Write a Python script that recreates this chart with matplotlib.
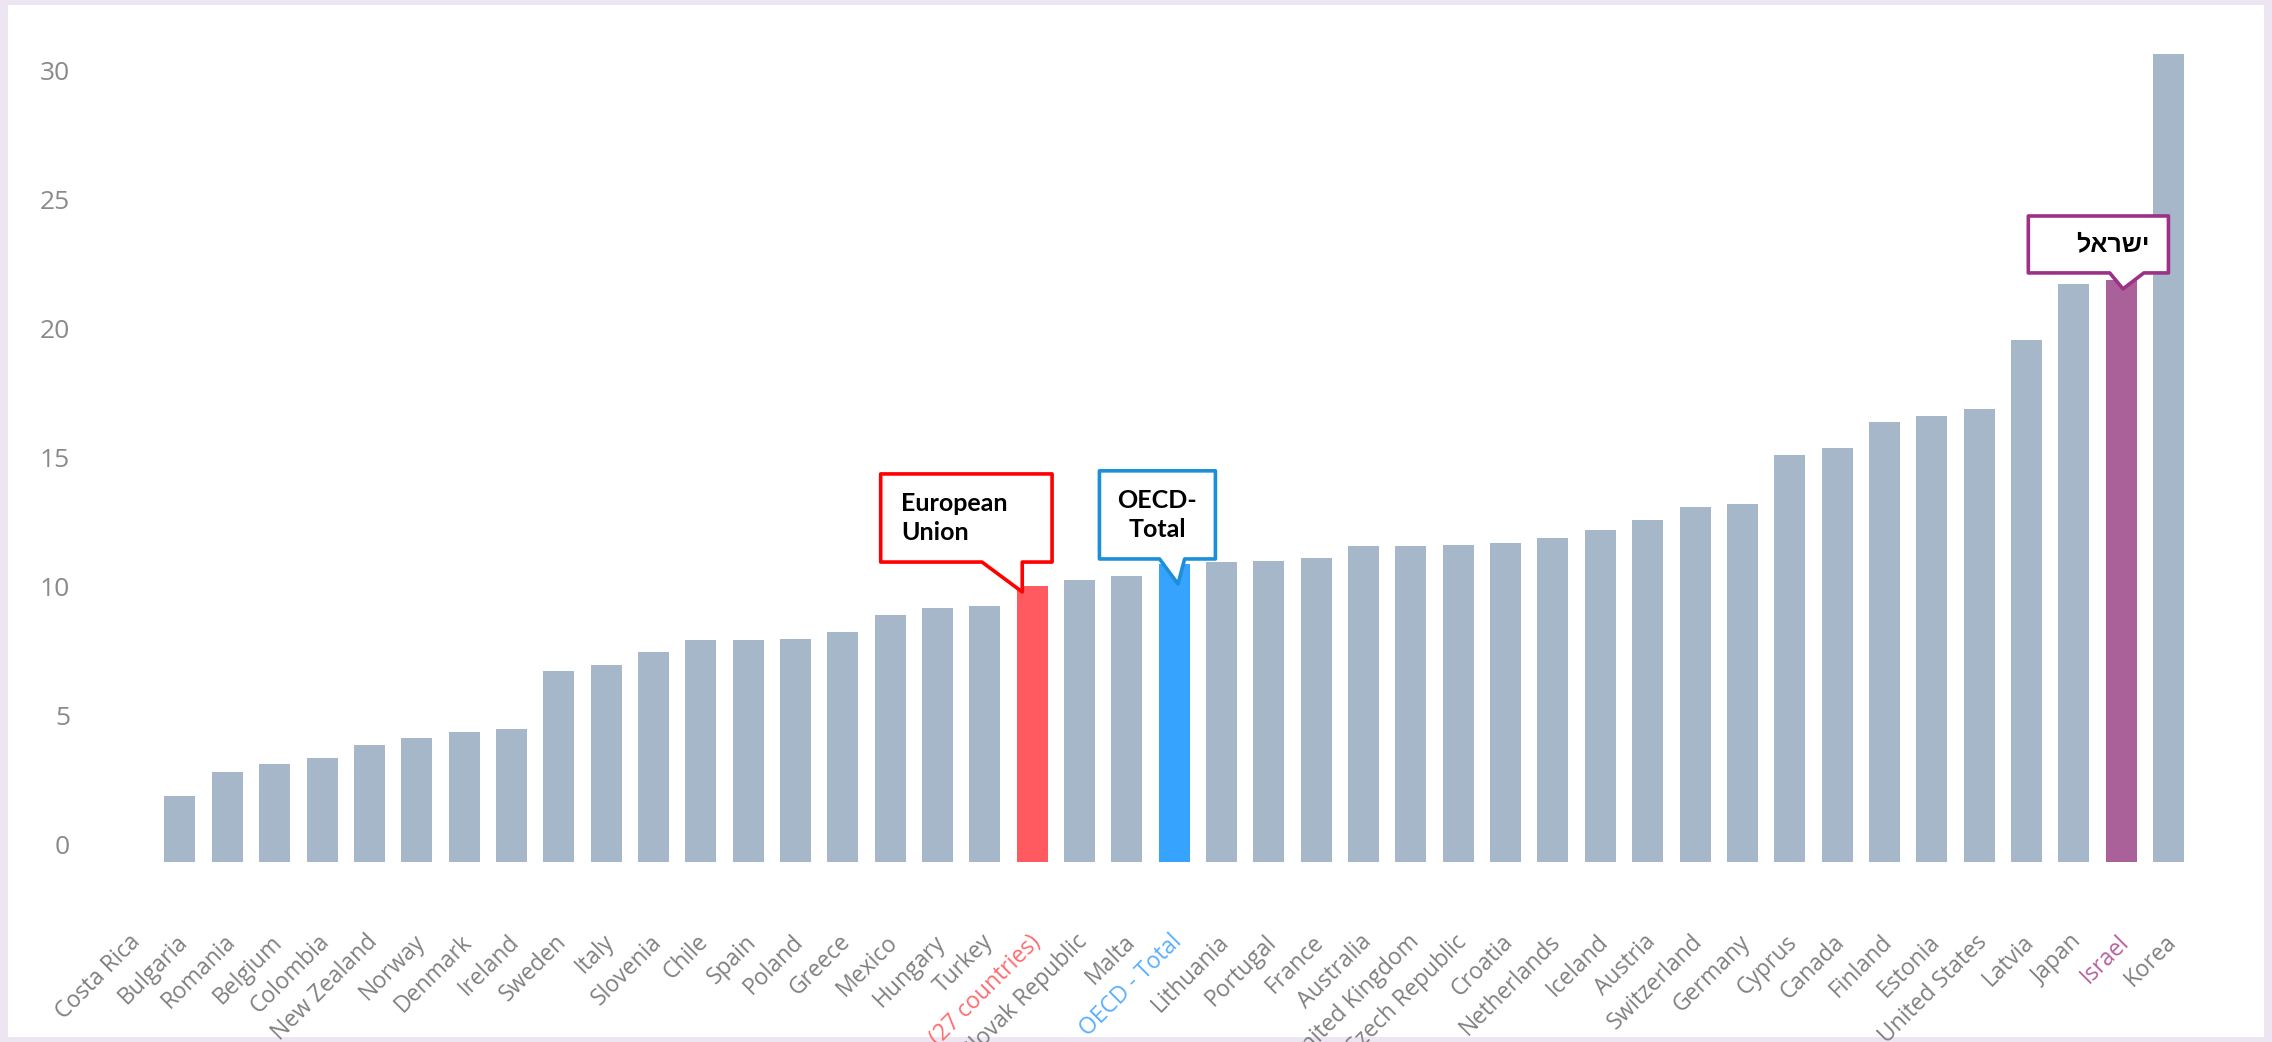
import numpy as np
import matplotlib.pyplot as plt
import matplotlib.transforms as mtransforms
from matplotlib.patches import Polygon, Rectangle

countries = ['Costa Rica', 'Bulgaria', 'Romania', 'Belgium', 'Colombia', 'New Zealand',
             'Norway', 'Denmark', 'Ireland', 'Sweden', 'Italy', 'Slovenia', 'Chile',
             'Spain', 'Poland', 'Greece', 'Mexico', 'Hungary', 'Turkey',
             'European Union (27 countries)', 'Slovak Republic', 'Malta', 'OECD - Total',
             'Lithuania', 'Portugal', 'France', 'Australia', 'United Kingdom',
             'Czech Republic', 'Croatia', 'Netherlands', 'Iceland', 'Austria',
             'Switzerland', 'Germany', 'Cyprus', 'Canada', 'Finland', 'Estonia',
             'United States', 'Latvia', 'Japan', 'Israel', 'Korea']
values = [np.nan, 2.58, 3.49, 3.82, 4.04, 4.55, 4.83, 5.06, 5.17, 7.42, 7.64, 8.15, 8.6,
          8.6, 8.65, 8.93, 9.6, 9.86, 9.94, 10.71, 10.94, 11.1, 11.56, 11.63, 11.69,
          11.8, 12.25, 12.25, 12.31, 12.36, 12.59, 12.87, 13.26, 13.77, 13.88, 15.8,
          16.08, 17.09, 17.31, 17.59, 20.24, 22.44, 22.58, 31.37]
yticks = [0, 5, 10, 15, 20, 25, 30]

bar_gray = '#a5b7c9'
highlight = {'European Union (27 countries)': ('#ff5a5f', '#ff6b6f', '#ff0000'),
             'OECD - Total': ('#36a3ff', '#5aafff', '#1b8fd9'),
             'Israel': ('#aa6199', '#b8609e', '#9b3287')}

callouts = [
    # name, text, text align, box (x0, x1, y0, y1) relative to bar, pointer base x0, x1, tip (dx, dy)
    ('European Union (27 countries)', 'European\nUnion', 'left',
     (-3.2, 0.42, 0.93, 4.35), (-1.06, -0.21), (-0.21, -0.23)),
    ('OECD - Total', 'OECD-\nTotal', 'center',
     (-1.58, 0.87, 0.2, 3.62), (-0.31, 0.22), (0.08, -0.77)),
    ('Israel', 'ישראל', 'right',
     (-1.96, 1.0, 0.28, 2.49), (-0.24, 0.48), (0.04, -0.34)),
]

fig = plt.figure(figsize=(22.72, 10.42), dpi=100, facecolor='#ede5f2')
fig.patches.append(Rectangle((8 / 2272, 5 / 1042), (2264 - 8) / 2272, (1037 - 5) / 1042,
                             transform=fig.transFigure, facecolor='white',
                             edgecolor='none', zorder=-10))
ax = fig.add_axes([85.3 / 2272, 180 / 1042, (2215.8 - 85.3) / 2272, (862 - 37.4) / 1042])
ax.set_facecolor('none')

x = np.arange(len(countries))
colors = [highlight[c][0] if c in highlight else bar_gray for c in countries]
ax.bar(x, values, width=0.655, color=colors, zorder=2)

ax.set_xlim(-1, len(countries))
ax.set_ylim(0, 32)
for s in ax.spines.values():
    s.set_visible(False)

ax.set_yticks(yticks)
ax.set_yticklabels([str(t) for t in yticks], fontsize=19, color='#8a8a8a', family='Open Sans')
ax.tick_params(axis='y', length=0, pad=11)
off = mtransforms.ScaledTranslation(0, 0.18, fig.dpi_scale_trans)
for lab in ax.get_yticklabels():
    lab.set_transform(lab.get_transform() + off)

ax.set_xticks(x)
ax.set_xticklabels(countries, rotation=45, ha='right', fontsize=16.5, family='Open Sans')
ax.tick_params(axis='x', length=0, pad=49)
offx = mtransforms.ScaledTranslation(0.13, 0, fig.dpi_scale_trans)
for lab, c in zip(ax.get_xticklabels(), countries):
    lab.set_color(highlight[c][1] if c in highlight else '#808080')
    lab.set_transform(lab.get_transform() + offx)

for name, text, align, box, base, tip in callouts:
    i = countries.index(name)
    v = values[i]
    bx0, bx1, by0, by1 = box
    pts = [(i + bx0, v + by1), (i + bx1, v + by1), (i + bx1, v + by0),
           (i + base[1], v + by0), (i + tip[0], v + tip[1]), (i + base[0], v + by0),
           (i + bx0, v + by0)]
    ax.add_patch(Polygon(pts, closed=True, facecolor='white', edgecolor=highlight[name][2],
                         linewidth=2.6, joinstyle='round', zorder=4))
    ymid = v + (by0 + by1) / 2
    if align == 'left':
        ax.text(i + bx0 + 0.43, ymid, text, ha='left', va='center', fontsize=18,
                fontweight='bold', family='Lato', linespacing=1.3, zorder=5)
    elif align == 'center':
        ax.text(i + (bx0 + bx1) / 2, ymid, text, ha='center', va='center', fontsize=18,
                fontweight='bold', family='Lato', linespacing=1.3, zorder=5)
    else:
        # matplotlib draws left to right, so the Hebrew word is reversed for display
        ax.text(i + bx1 - 0.4, ymid, text[::-1], ha='right', va='center', fontsize=18,
                fontweight='bold', family=['Liberation Sans', 'DejaVu Sans'], zorder=5)

fig.savefig('out.png', dpi=100, facecolor=fig.get_facecolor())
